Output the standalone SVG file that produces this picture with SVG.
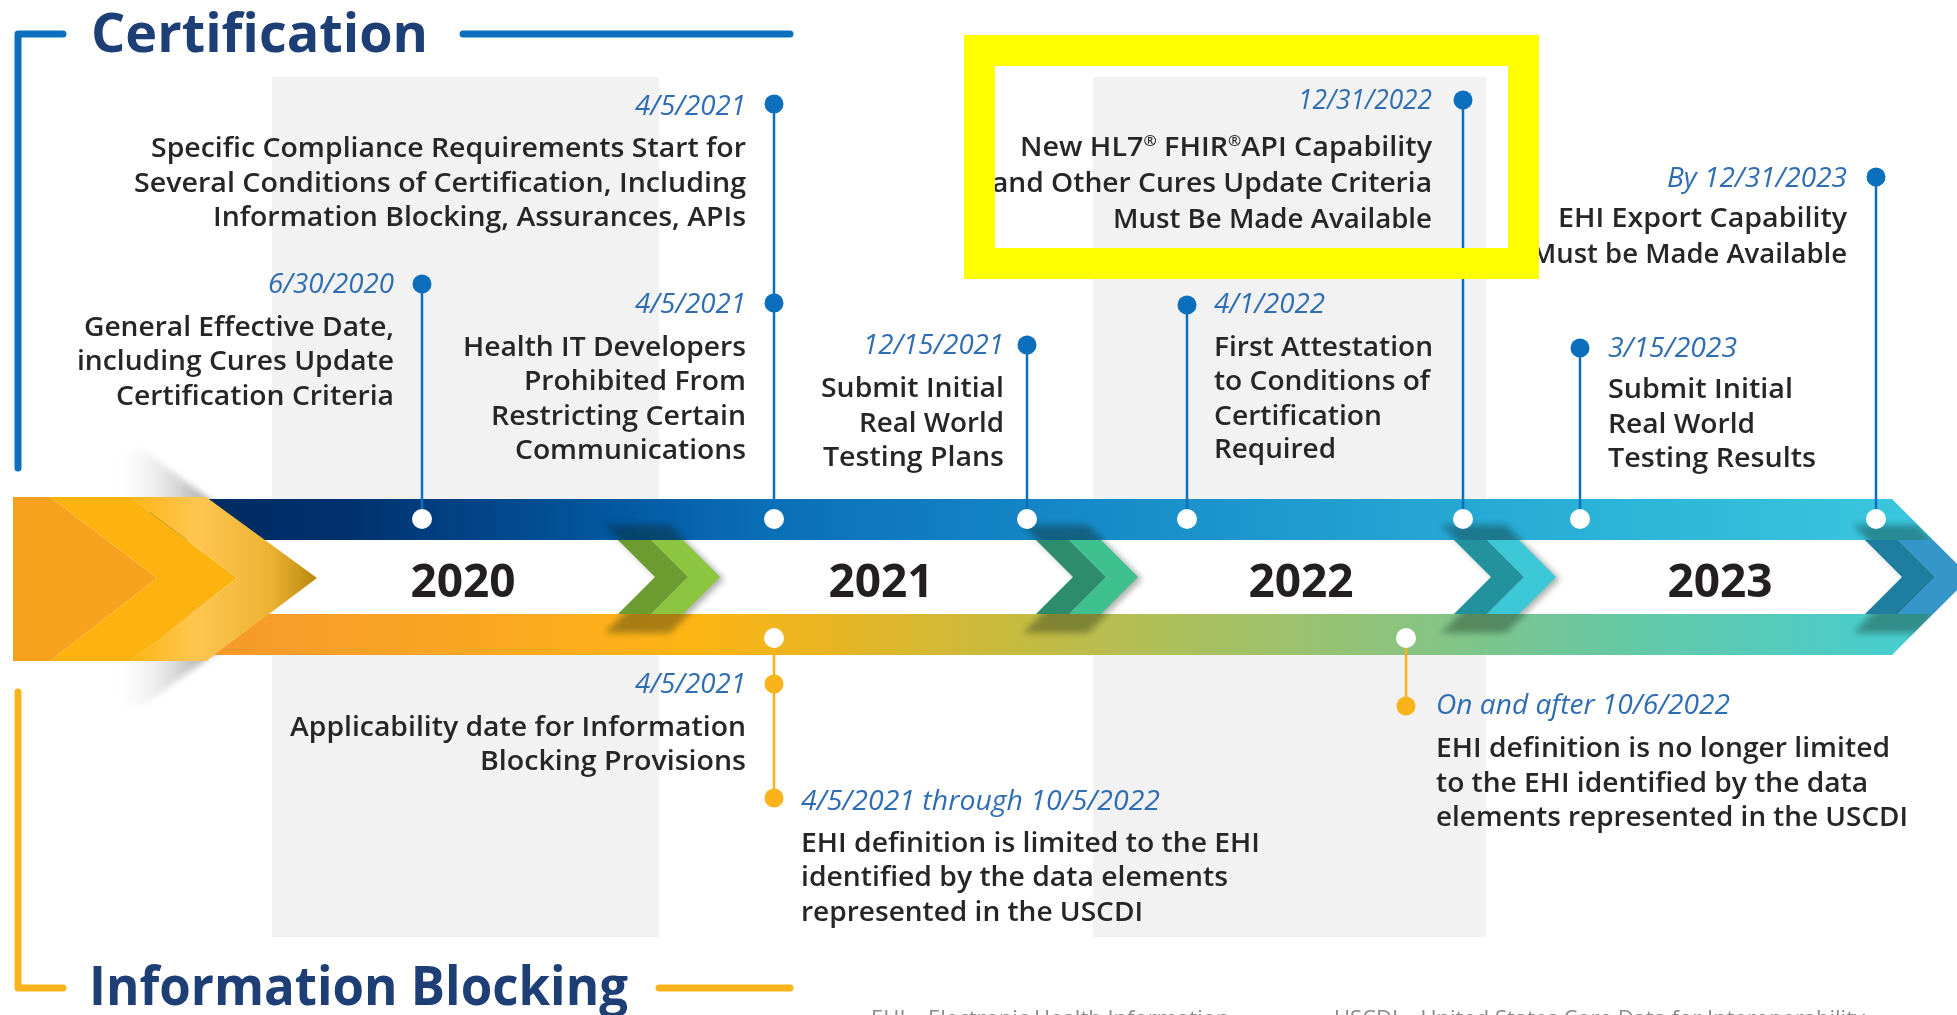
<svg xmlns="http://www.w3.org/2000/svg" width="1957" height="1015" viewBox="0 0 1957 1015">
<style>
.t{font-family:"Open Sans","Liberation Sans",sans-serif;font-weight:600;font-size:27px;fill:#262626}
.d{font-family:"Open Sans","Liberation Sans",sans-serif;font-style:italic;font-weight:400;font-size:27px;fill:#2f6db3}
.e{text-anchor:end}
.yr{font-family:"Open Sans","Liberation Sans",sans-serif;font-weight:700;font-size:46px;fill:#231f20;text-anchor:middle}
.h{font-family:"Open Sans","Liberation Sans",sans-serif;font-weight:700;font-size:54px;fill:#1d3f76}
.ft{font-family:"Open Sans","Liberation Sans",sans-serif;font-size:22px;fill:#8a8a8a}
.cb{stroke:#0b6fbe;stroke-width:2.5;fill:none}
.co{stroke:#fbb31c;stroke-width:2.5;fill:none}
.db{fill:#0b6fbe}
.do{fill:#fbb31c}
.wm{fill:#ffffff}
.panel{fill:#f2f2f2}
</style>
<defs>
<linearGradient id="gTop" gradientUnits="userSpaceOnUse" x1="150" y1="0" x2="1970" y2="0">
<stop offset="0" stop-color="#002a5c"/>
<stop offset="0.1" stop-color="#002f6c"/>
<stop offset="0.25" stop-color="#03579f"/>
<stop offset="0.34" stop-color="#0a6fb8"/>
<stop offset="0.47" stop-color="#1383c4"/>
<stop offset="0.63" stop-color="#1f9bcf"/>
<stop offset="0.8" stop-color="#2cb3d8"/>
<stop offset="1" stop-color="#3ccbde"/>
</linearGradient>
<linearGradient id="gBot" gradientUnits="userSpaceOnUse" x1="150" y1="0" x2="1970" y2="0">
<stop offset="0" stop-color="#f5962b"/>
<stop offset="0.16" stop-color="#f9a524"/>
<stop offset="0.3" stop-color="#fdb515"/>
<stop offset="0.38" stop-color="#e6b524"/>
<stop offset="0.47" stop-color="#c8bb3f"/>
<stop offset="0.58" stop-color="#a8c060"/>
<stop offset="0.69" stop-color="#8ac47f"/>
<stop offset="0.82" stop-color="#62c9a8"/>
<stop offset="1" stop-color="#40cdd8"/>
</linearGradient>
<linearGradient id="gTip" gradientUnits="userSpaceOnUse" x1="130" y1="0" x2="317" y2="0">
<stop offset="0" stop-color="#fdb515"/>
<stop offset="0.35" stop-color="#fec650"/>
<stop offset="0.75" stop-color="#ecb334"/>
<stop offset="1" stop-color="#b8880e"/>
</linearGradient>
<linearGradient id="gShadow" gradientUnits="userSpaceOnUse" x1="110" y1="0" x2="215" y2="0">
<stop offset="0" stop-color="#ffffff" stop-opacity="0"/>
<stop offset="1" stop-color="#8f8f8f" stop-opacity="0.9"/>
</linearGradient>
<filter id="blur" x="-30%" y="-30%" width="160%" height="160%"><feGaussianBlur stdDeviation="3"/></filter>
<filter id="blur2" x="-30%" y="-30%" width="160%" height="160%"><feGaussianBlur stdDeviation="5"/></filter>
<clipPath id="wb"><rect x="0" y="540" width="1957" height="74"/></clipPath>
<clipPath id="bands"><polygon points="150,499 1892,499 1970,577 1892,655 150,655"/></clipPath>
<polygon id="chD" points="-119,-54 -86,-54 -32,0 -86,54 -119,54 -65,0"/>
<polygon id="chL" points="-86,-54 -54,-54 0,0 -54,54 -86,54 -32,0"/>
<polygon id="chS" points="-119,-54 -54,-54 0,0 -54,54 -119,54 -65,0"/>
</defs>

<rect width="1957" height="1015" fill="#ffffff"/>

<g id="panels">
<rect class="panel" x="272" y="77" width="387" height="860"/>
<rect class="panel" x="1093" y="77" width="393" height="860"/>
</g>

<g id="title-certification">
<path d="M18,468 V34 H63" stroke="#0b6fbe" stroke-width="7" fill="none" stroke-linecap="round" stroke-linejoin="round"/>
<line x1="463" y1="34" x2="790" y2="34" stroke="#0b6fbe" stroke-width="7" stroke-linecap="round"/>
<text class="h" x="91" y="52" textLength="337" lengthAdjust="spacingAndGlyphs">Certification</text>
</g>

<g id="title-information-blocking">
<path d="M18,692 V988 H63" stroke="#fbb31c" stroke-width="7" fill="none" stroke-linecap="round" stroke-linejoin="round"/>
<line x1="659" y1="988" x2="790" y2="988" stroke="#fbb31c" stroke-width="7" stroke-linecap="round"/>
<text class="h" x="89" y="1005" textLength="539" lengthAdjust="spacingAndGlyphs">Information Blocking</text>
</g>

<g id="timeline">
<polygon points="100,450 143,450 317,578 143,706 100,706" fill="url(#gShadow)" filter="url(#blur)"/>
<polygon points="150,499 1892,499 1933,540 150,540" fill="url(#gTop)"/>
<polygon points="150,614 1933,614 1892,655 150,655" fill="url(#gBot)"/>
<polygon points="150,540 1865,540 1902,577 1865,614 150,614" fill="#ffffff"/>
<g clip-path="url(#bands)" opacity="0.35">
<use href="#chS" transform="translate(724,579)" fill="#0a1a10" filter="url(#blur)"/>
<use href="#chS" transform="translate(1142,579)" fill="#0a1a10" filter="url(#blur)"/>
<use href="#chS" transform="translate(1560,579)" fill="#0a1a10" filter="url(#blur)"/>
<use href="#chS" transform="translate(1972,579)" fill="#0a1a10" filter="url(#blur)"/>
</g>
<g clip-path="url(#wb)">
<use href="#chD" transform="translate(720,577)" fill="#6c9b2f"/>
<use href="#chL" transform="translate(720,577)" fill="#8cc540"/>
<use href="#chD" transform="translate(1138,577)" fill="#2c8c6b"/>
<use href="#chL" transform="translate(1138,577)" fill="#3fc08f"/>
<use href="#chD" transform="translate(1556,577)" fill="#23929f"/>
<use href="#chL" transform="translate(1556,577)" fill="#3cc7d7"/>
<polygon points="1865,540 1898,540 1935,577 1898,614 1865,614 1902,577" fill="#1f7ea0"/>
<polygon points="1898,540 1933,540 1970,577 1933,614 1898,614 1935,577" fill="#3597c9"/>
</g>
<polygon points="13,497 50,497 157,578 50,661 13,661" fill="#f7a21f"/>
<polygon points="50,497 130,497 237,578 130,661 50,661 157,578" fill="#fdb30f"/>
<polygon points="130,497 206,497 317,578 206,661 130,661 237,578" fill="url(#gTip)"/>
<text class="yr" x="463" y="597">2020</text>
<text class="yr" x="881" y="597">2021</text>
<text class="yr" x="1301" y="597">2022</text>
<text class="yr" x="1720" y="597">2023</text>
</g>

<g id="connectors">
<line class="cb" x1="422" y1="284" x2="422" y2="519"/>
<line class="cb" x1="774" y1="104" x2="774" y2="519"/>
<line class="cb" x1="1027" y1="345" x2="1027" y2="519"/>
<line class="cb" x1="1187" y1="305" x2="1187" y2="519"/>
<line class="cb" x1="1463" y1="100" x2="1463" y2="519"/>
<line class="cb" x1="1580" y1="348" x2="1580" y2="519"/>
<line class="cb" x1="1876" y1="177" x2="1876" y2="519"/>
<line class="co" x1="774" y1="638" x2="774" y2="798"/>
<line class="co" x1="1406" y1="638" x2="1406" y2="706"/>
</g>

<g id="markers">
<circle class="wm" cx="422" cy="519" r="10"/>
<circle class="wm" cx="774" cy="519" r="10"/>
<circle class="wm" cx="1027" cy="519" r="10"/>
<circle class="wm" cx="1187" cy="519" r="10"/>
<circle class="wm" cx="1463" cy="519" r="10"/>
<circle class="wm" cx="1580" cy="519" r="10"/>
<circle class="wm" cx="1876" cy="519" r="10"/>
<circle class="wm" cx="774" cy="638" r="10"/>
<circle class="wm" cx="1406" cy="638" r="10"/>
</g>

<g id="n-2020-06-30">
<circle class="db" cx="422" cy="284" r="9.5"/>
<text class="d e" x="394" y="293" textLength="126" lengthAdjust="spacingAndGlyphs">6/30/2020</text>
<text class="t e" x="394" y="336" textLength="310" lengthAdjust="spacingAndGlyphs">General Effective Date,</text>
<text class="t e" x="394" y="370" textLength="317" lengthAdjust="spacingAndGlyphs">including Cures Update</text>
<text class="t e" x="394" y="405" textLength="278" lengthAdjust="spacingAndGlyphs">Certification Criteria</text>
</g>

<g id="n-2021-04-05-compliance">
<circle class="db" cx="774" cy="104" r="9.5"/>
<text class="d e" x="746" y="115" textLength="111" lengthAdjust="spacingAndGlyphs">4/5/2021</text>
<text class="t e" x="746" y="157" textLength="595" lengthAdjust="spacingAndGlyphs">Specific Compliance Requirements Start for</text>
<text class="t e" x="746" y="192" textLength="612" lengthAdjust="spacingAndGlyphs">Several Conditions of Certification, Including</text>
<text class="t e" x="746" y="226" textLength="533" lengthAdjust="spacingAndGlyphs">Information Blocking, Assurances, APIs</text>
</g>

<g id="n-2021-04-05-developers">
<circle class="db" cx="774" cy="303" r="9.5"/>
<text class="d e" x="746" y="313" textLength="111" lengthAdjust="spacingAndGlyphs">4/5/2021</text>
<text class="t e" x="746" y="356" textLength="283" lengthAdjust="spacingAndGlyphs">Health IT Developers</text>
<text class="t e" x="746" y="390" textLength="222" lengthAdjust="spacingAndGlyphs">Prohibited From</text>
<text class="t e" x="746" y="425" textLength="255" lengthAdjust="spacingAndGlyphs">Restricting Certain</text>
<text class="t e" x="746" y="459" textLength="231" lengthAdjust="spacingAndGlyphs">Communications</text>
</g>

<g id="n-2021-12-15">
<circle class="db" cx="1027" cy="345" r="9.5"/>
<text class="d e" x="1004" y="354" textLength="141" lengthAdjust="spacingAndGlyphs">12/15/2021</text>
<text class="t e" x="1004" y="397" textLength="183" lengthAdjust="spacingAndGlyphs">Submit Initial</text>
<text class="t e" x="1004" y="432" textLength="145" lengthAdjust="spacingAndGlyphs">Real World</text>
<text class="t e" x="1004" y="466" textLength="181" lengthAdjust="spacingAndGlyphs">Testing Plans</text>
</g>

<g id="n-2022-04-01">
<circle class="db" cx="1187" cy="305" r="9.5"/>
<text class="d" x="1214" y="313" textLength="111" lengthAdjust="spacingAndGlyphs">4/1/2022</text>
<text class="t" x="1214" y="356" textLength="219" lengthAdjust="spacingAndGlyphs">First Attestation</text>
<text class="t" x="1214" y="390" textLength="216" lengthAdjust="spacingAndGlyphs">to Conditions of</text>
<text class="t" x="1214" y="425" textLength="168" lengthAdjust="spacingAndGlyphs">Certification</text>
<text class="t" x="1214" y="458" textLength="122" lengthAdjust="spacingAndGlyphs">Required</text>
</g>

<g id="n-2022-12-31">
<circle class="db" cx="1463" cy="100" r="9.5"/>
<text class="d e" x="1432" y="109" textLength="134" lengthAdjust="spacingAndGlyphs">12/31/2022</text>
<text class="t e" x="1432" y="156" textLength="412" lengthAdjust="spacingAndGlyphs">New HL7<tspan font-size="15" dy="-10">®</tspan><tspan dy="10"> FHIR</tspan><tspan font-size="15" dy="-10">®</tspan><tspan dy="10">API Capability</tspan></text>
<text class="t e" x="1432" y="192" textLength="440" lengthAdjust="spacingAndGlyphs">and Other Cures Update Criteria</text>
<text class="t e" x="1432" y="228" textLength="319" lengthAdjust="spacingAndGlyphs">Must Be Made Available</text>
</g>

<g id="n-2023-03-15">
<circle class="db" cx="1580" cy="348" r="9.5"/>
<text class="d" x="1608" y="357" textLength="129" lengthAdjust="spacingAndGlyphs">3/15/2023</text>
<text class="t" x="1608" y="398" textLength="185" lengthAdjust="spacingAndGlyphs">Submit Initial</text>
<text class="t" x="1608" y="433" textLength="147" lengthAdjust="spacingAndGlyphs">Real World</text>
<text class="t" x="1608" y="467" textLength="208" lengthAdjust="spacingAndGlyphs">Testing Results</text>
</g>

<g id="n-2023-12-31">
<circle class="db" cx="1876" cy="177" r="9.5"/>
<text class="d e" x="1847" y="187" textLength="180" lengthAdjust="spacingAndGlyphs">By 12/31/2023</text>
<text class="t e" x="1847" y="227" textLength="289" lengthAdjust="spacingAndGlyphs">EHI Export Capability</text>
<text class="t e" x="1847" y="263" textLength="316" lengthAdjust="spacingAndGlyphs">Must be Made Available</text>
</g>

<g id="n-ib-2021-04-05">
<circle class="do" cx="774" cy="684" r="9.5"/>
<text class="d e" x="746" y="693" textLength="111" lengthAdjust="spacingAndGlyphs">4/5/2021</text>
<text class="t e" x="746" y="736" textLength="456" lengthAdjust="spacingAndGlyphs">Applicability date for Information</text>
<text class="t e" x="746" y="770" textLength="266" lengthAdjust="spacingAndGlyphs">Blocking Provisions</text>
</g>

<g id="n-ib-through">
<circle class="do" cx="774" cy="798" r="9.5"/>
<text class="d" x="801" y="810" textLength="359" lengthAdjust="spacingAndGlyphs">4/5/2021 through 10/5/2022</text>
<text class="t" x="801" y="852" textLength="459" lengthAdjust="spacingAndGlyphs">EHI definition is limited to the EHI</text>
<text class="t" x="801" y="886" textLength="427" lengthAdjust="spacingAndGlyphs">identified by the data elements</text>
<text class="t" x="801" y="921" textLength="342" lengthAdjust="spacingAndGlyphs">represented in the USCDI</text>
</g>

<g id="n-ib-after">
<circle class="do" cx="1406" cy="706" r="9.5"/>
<text class="d" x="1436" y="714" textLength="294" lengthAdjust="spacingAndGlyphs">On and after 10/6/2022</text>
<text class="t" x="1436" y="757" textLength="454" lengthAdjust="spacingAndGlyphs">EHI definition is no longer limited</text>
<text class="t" x="1436" y="792" textLength="432" lengthAdjust="spacingAndGlyphs">to the EHI identified by the data</text>
<text class="t" x="1436" y="826" textLength="472" lengthAdjust="spacingAndGlyphs">elements represented in the USCDI</text>
</g>

<g id="footer">
<text class="ft" x="871" y="1026">EHI – Electronic Health Information</text>
<text class="ft" x="1334" y="1026">USCDI – United States Core Data for Interoperability</text>
</g>

<g id="highlight">
<rect x="979.5" y="50.5" width="544" height="213" fill="none" stroke="#ffff00" stroke-width="31"/>
</g>
</svg>
